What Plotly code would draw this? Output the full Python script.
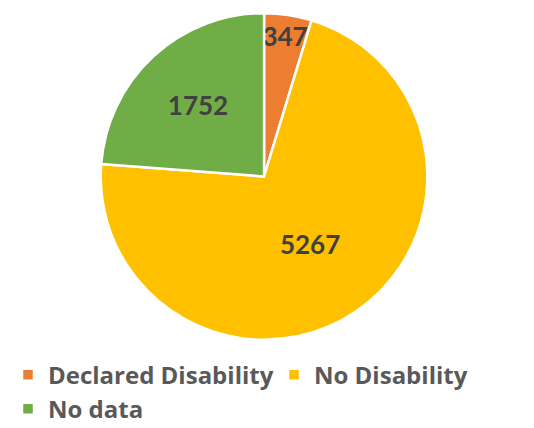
import plotly.graph_objects as go

labels = ["Declared Disability", "No Disability", "No data"]
values = [347, 5267, 1752]
colors = ["#ED7D31", "#FFC000", "#70AD47"]

fig = go.Figure(go.Pie(
    labels=labels,
    values=values,
    sort=False,
    direction="clockwise",
    rotation=0,
    marker=dict(colors=colors, line=dict(color="white", width=2.5)),
    textinfo="value",
    textposition="inside",
    insidetextorientation="horizontal",
    textfont=dict(family="Lato", size=26, color="#404040", weight="bold"),
    domain=dict(x=[0.172, 0.787], y=[0.225, 0.988]),
    hoverinfo="label+value",
))

fig.update_layout(
    width=534, height=428,
    margin=dict(l=0, r=0, t=0, b=0, autoexpand=False),
    paper_bgcolor="white",
    uniformtext=dict(minsize=26, mode="show"),
    legend=dict(
        orientation="h",
        x=0.0, xanchor="left",
        y=0.195, yanchor="top",
        font=dict(family="Open Sans", size=24, color="#595959", weight="bold"),
        entrywidth=221, entrywidthmode="pixels",
        itemwidth=30,
        tracegroupgap=0,
    ),
)

fig.write_html("out.html")
